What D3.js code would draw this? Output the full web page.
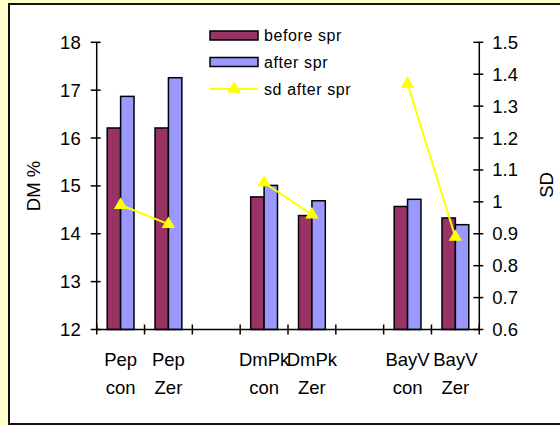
<!DOCTYPE html>
<html><head><meta charset="utf-8">
<script src="https://cdn.jsdelivr.net/npm/d3@7"></script>
<style>
html,body{margin:0;padding:0;background:#FFFFCC;}
svg{display:block;font-family:"Liberation Sans",Arial,sans-serif;}
</style></head>
<body>
<svg id="c" width="560" height="426"></svg>
<script>
const categories = [["Pep","con"],["Pep","Zer"],null,["DmPk","con"],["DmPk","Zer"],null,["BayV","con"],["BayV","Zer"]];
const beforeSpr = [16.21, 16.21, null, 14.77, 14.38, null, 14.57, 14.33];
const afterSpr  = [16.87, 17.26, null, 15.01, 14.69, null, 14.72, 14.19];
const sdAfter   = [0.99, 0.93, null, 1.06, 0.96, null, 1.37, 0.89];
const leftTicks = [12,13,14,15,16,17,18];
const rightTicks = [0.6,0.7,0.8,0.9,1.0,1.1,1.2,1.3,1.4,1.5];
const seriesNames = ["before spr","after spr","sd after spr"];
const colors = {before:"#993366", after:"#9999FF", sd:"#FFFF00"};

const svg = d3.select("#c");
svg.append("rect").attr("x",9).attr("y",4).attr("width",560).attr("height",420)
  .attr("fill","#fff").attr("stroke","#111").attr("stroke-width",2);

const x0 = 96.7, x1 = 479.3, yTop = 42.3, yBot = 329.5;
const x = d3.scaleBand().domain(d3.range(categories.length)).range([x0,x1]).paddingInner(0).paddingOuter(0);
const bw = 13.4;
const yL = d3.scaleLinear().domain([12,18]).range([yBot,yTop]);
const yR = d3.scaleLinear().domain([0.6,1.5]).range([yBot,yTop]);

const idx = d3.range(categories.length).filter(i => categories[i]);
const g = svg.append("g");
g.selectAll(".b1").data(idx).join("rect")
  .attr("x", i => x(i)+x.bandwidth()/2 - bw).attr("width", bw)
  .attr("y", i => yL(beforeSpr[i])).attr("height", i => yBot - yL(beforeSpr[i]))
  .attr("fill", colors.before).attr("stroke","#000").attr("stroke-width",1.5);
g.selectAll(".b2").data(idx).join("rect")
  .attr("x", i => x(i)+x.bandwidth()/2).attr("width", bw)
  .attr("y", i => yL(afterSpr[i])).attr("height", i => yBot - yL(afterSpr[i]))
  .attr("fill", colors.after).attr("stroke","#000").attr("stroke-width",1.5);

const ax = svg.append("g").attr("stroke","#000").attr("stroke-width",1.5);
ax.append("line").attr("x1",x0).attr("x2",x0).attr("y1",yTop).attr("y2",yBot);
ax.append("line").attr("x1",x1).attr("x2",x1).attr("y1",yTop).attr("y2",yBot);
ax.append("line").attr("x1",x0).attr("x2",x1).attr("y1",yBot).attr("y2",yBot);
ax.selectAll(".lt").data(leftTicks).join("line")
  .attr("x1",x0-6).attr("x2",x0+4).attr("y1",d=>yL(d)).attr("y2",d=>yL(d));
ax.selectAll(".rt").data(rightTicks).join("line")
  .attr("x1",x1-6).attr("x2",x1+4).attr("y1",d=>yR(d)).attr("y2",d=>yR(d));
ax.selectAll(".xt").data(d3.range(categories.length+1)).join("line")
  .attr("x1",i=>x0+i*x.bandwidth()).attr("x2",i=>x0+i*x.bandwidth())
  .attr("y1",yBot-5).attr("y2",yBot+5);

const fs = 18.5;
svg.selectAll(".ll").data(leftTicks).join("text")
  .attr("x",x0-16).attr("y",d=>yL(d)).attr("dy","0.35em").attr("text-anchor","end")
  .attr("font-size",fs).text(d=>d);
svg.selectAll(".rl").data(rightTicks).join("text")
  .attr("x",x1+13).attr("y",d=>yR(d)).attr("dy","0.35em").attr("text-anchor","start")
  .attr("font-size",fs).text(d=>d3.format("~g")(d));
const cl = svg.selectAll(".cl").data(idx).join("text")
  .attr("text-anchor","middle").attr("font-size",fs);
cl.append("tspan").attr("x",i=>x(i)+x.bandwidth()/2).attr("y",366).text(i=>categories[i][0]);
cl.append("tspan").attr("x",i=>x(i)+x.bandwidth()/2).attr("y",394).text(i=>categories[i][1]);

svg.append("text").attr("transform","translate(40,186) rotate(-90)")
  .attr("text-anchor","middle").attr("font-size",fs).text("DM %");
svg.append("text").attr("transform","translate(553,185) rotate(-90)")
  .attr("text-anchor","middle").attr("font-size",fs).text("SD");

const line = d3.line().defined(i => sdAfter[i] != null)
  .x(i => x(i)+x.bandwidth()/2).y(i => yR(sdAfter[i]));
svg.append("path").datum(d3.range(categories.length)).attr("d",line)
  .attr("fill","none").attr("stroke",colors.sd).attr("stroke-width",2);
const tri = d3.symbol().type(d3.symbolTriangle).size(78);
svg.selectAll(".m").data(idx).join("path")
  .attr("transform",i=>`translate(${x(i)+x.bandwidth()/2},${yR(sdAfter[i])})`)
  .attr("d",tri).attr("fill",colors.sd);

const lg = svg.append("g");
const rows = [35.5, 62, 89];
lg.append("rect").attr("x",210).attr("y",rows[0]-4.5).attr("width",48).attr("height",9)
  .attr("fill",colors.before).attr("stroke","#000").attr("stroke-width",1.5);
lg.append("rect").attr("x",210).attr("y",rows[1]-4.5).attr("width",48).attr("height",9)
  .attr("fill",colors.after).attr("stroke","#000").attr("stroke-width",1.5);
lg.append("line").attr("x1",210).attr("x2",258).attr("y1",rows[2]).attr("y2",rows[2])
  .attr("stroke",colors.sd).attr("stroke-width",2);
lg.append("path").attr("transform",`translate(234,${rows[2]})`).attr("d",tri).attr("fill",colors.sd);
lg.selectAll(".lt").data(seriesNames).join("text")
  .attr("x",264).attr("y",(d,i)=>rows[i]).attr("dy","0.35em").attr("font-size",16)
  .attr("letter-spacing",0.6).text(d=>d);
</script>
</body></html>
